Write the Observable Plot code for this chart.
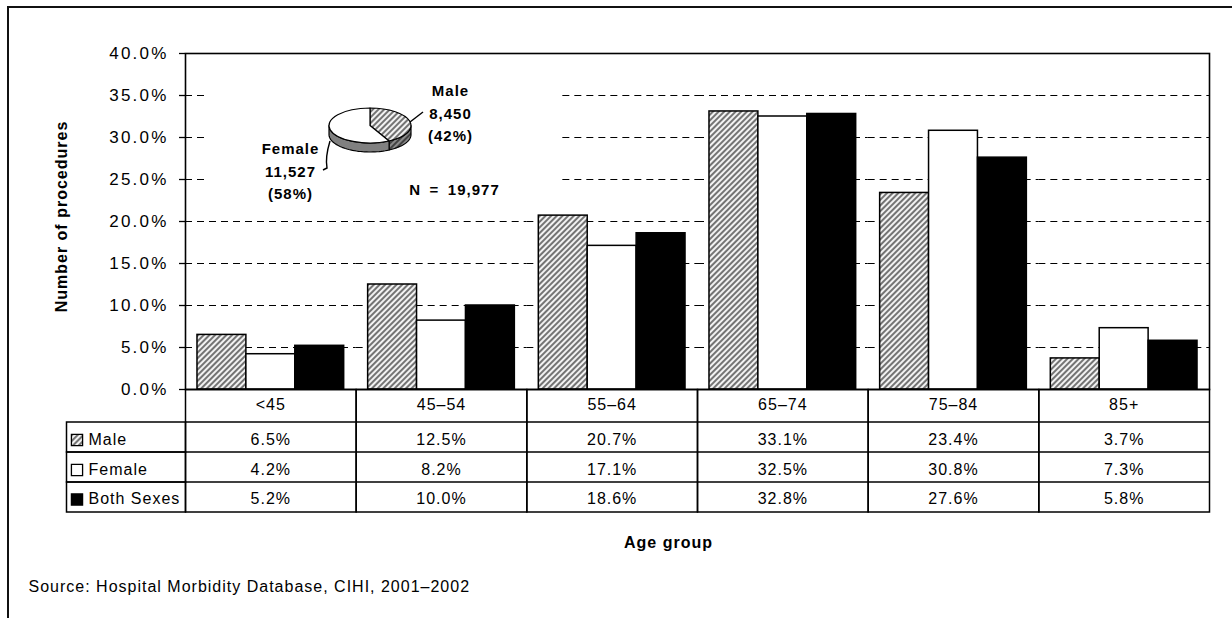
<!DOCTYPE html>
<html>
<head>
<meta charset="utf-8">
<script src="https://cdn.jsdelivr.net/npm/d3@7"></script>
<script src="https://cdn.jsdelivr.net/npm/@observablehq/plot@0.6"></script>
<style>
  body { margin: 0; background: #fff; }
  #wrap { position: relative; width: 1232px; height: 618px; overflow: hidden; background: #fff; }
  #border { position: absolute; left: 7px; top: 6px; width: 1300px; height: 700px;
            border-top: 2.5px solid #111; border-left: 2.5px solid #111; pointer-events: none; }
  #chart svg text { letter-spacing: 1px; }
  #chart svg g[aria-label="y-axis tick label"] text { letter-spacing: 2.2px; }
</style>
</head>
<body>
<svg width="0" height="0" style="position:absolute">
  <defs>
    <pattern id="hatch" patternUnits="userSpaceOnUse" width="4" height="4" patternTransform="rotate(45)">
      <rect width="4" height="4" fill="#f2f2f2"></rect>
      <line x1="1" y1="0" x2="1" y2="4" stroke="#4a4a4a" stroke-width="1.5"></line>
    </pattern>
    <pattern id="hatchDark" patternUnits="userSpaceOnUse" width="4" height="4" patternTransform="rotate(45)">
      <rect width="4" height="4" fill="#8a8a8a"></rect>
      <line x1="1" y1="0" x2="1" y2="4" stroke="#2a2a2a" stroke-width="1.5"></line>
    </pattern>
  </defs>
</svg>
<div id="wrap">
  <div id="chart"></div>
  <div id="border"></div>
</div>
<script>
// ---------- data ----------
const ageGroups = ["<45", "45–54", "55–64", "65–74", "75–84", "85+"];
const seriesNames = ["Male", "Female", "Both Sexes"];
const maleValues = [6.5, 12.5, 20.7, 33.1, 23.4, 3.7];
const femaleValues = [4.2, 8.2, 17.1, 32.5, 30.8, 7.3];
const bothValues = [5.2, 10.0, 18.6, 32.8, 27.6, 5.8];
const yTicks = [0, 5, 10, 15, 20, 25, 30, 35, 40];
const pieNames = ["Male", "Female"];
const pieCounts = [8450, 11527];
const axisTitleY = "Number of procedures";
const axisTitleX = "Age group";
const sourceNote = "Source: Hospital Morbidity Database, CIHI, 2001–2002";

// ---------- derived tables ----------
const valuesBySeries = {"Male": maleValues, "Female": femaleValues, "Both Sexes": bothValues};
const rows = ageGroups.flatMap((age, i) =>
  seriesNames.map(series => ({age, series, value: valuesBySeries[series][i]})));
const total = d3.sum(pieCounts);
const pieRows = pieNames.map((name, i) => ({name, count: pieCounts[i], pct: Math.round(100 * pieCounts[i] / total)}));

// ---------- styles ----------
const W = 1232, H = 618;
const mL = 185, mR = 23, mT = 53, mB = 229;
const plotH = H - mT - mB;
const headerH = 32.5, rowH = 30;
const barFill = {"Male": "url(#hatch)", "Female": "#ffffff", "Both Sexes": "#000000"};
const rowDy = {"Male": 50, "Female": 80, "Both Sexes": 109.5};
const sideFill = {"Male": "url(#hatchDark)", "Female": "#808080"};
const topFill = {"Male": "url(#hatch)", "Female": "#ffffff"};
const fmtPct = d => d.toFixed(1) + "%";
const fmtInt = d3.format(",");

function pieRender(index, scales, values, dims) {
  const cx = dims.marginLeft + 185, cy = dims.marginTop + 72.5;
  const rx = 41, ry = 17.5, depth = 9;
  const arcs = d3.pie().sort(null).value(d => d.count)(pieRows);
  const pt = (t, off = 0) => [cx + rx * Math.sin(t), cy - ry * Math.cos(t) + off];
  const g = d3.create("svg:g");
  // white background of the inset chart object (hides gridlines behind it)
  g.append("rect").attr("x", cx - 162).attr("y", cy - 57).attr("width", 350).attr("height", 137)
    .attr("fill", "#fff");
  for (const a of arcs) {
    const s0 = Math.max(a.startAngle, Math.PI / 2), s1 = Math.min(a.endAngle, 3 * Math.PI / 2);
    if (s1 <= s0) continue;
    const ts = d3.range(41).map(i => s0 + (s1 - s0) * i / 40);
    const pts = ts.map(t => pt(t)).concat(ts.slice().reverse().map(t => pt(t, depth)));
    g.append("path").attr("d", "M" + pts.join("L") + "Z")
      .attr("fill", sideFill[a.data.name]).attr("stroke", "#000")
      .attr("stroke-width", 1.2).attr("stroke-linejoin", "round");
  }
  for (const a of arcs) {
    const p0 = pt(a.startAngle), p1 = pt(a.endAngle);
    const large = a.endAngle - a.startAngle > Math.PI ? 1 : 0;
    g.append("path").attr("d", `M${cx},${cy}L${p0}A${rx},${ry} 0 ${large} 1 ${p1}Z`)
      .attr("fill", topFill[a.data.name]).attr("stroke", "#000")
      .attr("stroke-width", 1.2).attr("stroke-linejoin", "round");
  }
  // leader lines
  g.append("path").attr("d", `M${cx + 40},${cy - 3.5}L${cx + 53},${cy - 13.5}`)
    .attr("fill", "none").attr("stroke", "#000").attr("stroke-width", 1.4);
  g.append("path").attr("d", `M${cx - 40},${cy + 15.5}Q${cx - 45},${cy + 32} ${cx - 43},${cy + 42.5}L${cx - 47},${cy + 44.5}`)
    .attr("fill", "none").attr("stroke", "#000").attr("stroke-width", 1.4);
  return g.node();
}

const marks = [
  // gridlines (per facet)
  Plot.ruleY(yTicks.filter(d => d > 0 && d < 40), {stroke: "#000", strokeWidth: 1, strokeDasharray: "7,5"}),
  // bars
  ...seriesNames.map(s => Plot.barY(rows.filter(r => r.series === s), {
    fx: "age", x: "series", y: "value", fill: barFill[s], stroke: "#000", strokeWidth: 1.5
  })),
  // pie inset
  Plot.dot(pieRows, {facet: "super", frameAnchor: "top-left", render: pieRender}),
  // plot box
  Plot.frame({facet: "super", stroke: "#000", strokeWidth: 1.6}),
  // y axis
  Plot.axisY({ticks: yTicks, tickFormat: d => d.toFixed(1) + "%", tickSize: 6, tickPadding: 11,
              fontSize: 17, label: null, strokeWidth: 1.3}),
  // table cells (per facet)
  Plot.frame({insetTop: plotH, insetBottom: -(headerH + 3 * rowH), stroke: "#000", strokeWidth: 1.5}),
  Plot.ruleY([0], {dy: headerH, stroke: "#000", strokeWidth: 1.5}),
  Plot.ruleY([0], {dy: headerH + rowH, stroke: "#000", strokeWidth: 1.5}),
  Plot.ruleY([0], {dy: headerH + 2 * rowH, stroke: "#000", strokeWidth: 1.5}),
  // header labels
  Plot.text(ageGroups, {fx: d => d, text: d => d, frameAnchor: "bottom", lineAnchor: "middle", dy: 15.5, fontSize: 16}),
  // value cells
  ...seriesNames.map(s => Plot.text(rows.filter(r => r.series === s), {
    fx: "age", text: d => fmtPct(d.value), frameAnchor: "bottom", lineAnchor: "middle", dy: rowDy[s], fontSize: 16
  })),
  // legend column cells
  ...seriesNames.map((s, i) => Plot.frame({
    facet: "super", stroke: "#000", strokeWidth: 1.5,
    insetLeft: -119, insetRight: W - mL - mR,
    insetTop: plotH + headerH + i * rowH, insetBottom: -(headerH + (i + 1) * rowH)
  })),
  ...seriesNames.map(s => Plot.dot([s], {
    facet: "super", frameAnchor: "bottom-left", dx: -108.5, dy: rowDy[s] + 0.5,
    symbol: "square", r: 6.3, fill: barFill[s], stroke: "#000", strokeWidth: 1.3
  })),
  ...seriesNames.map(s => Plot.text([s], {
    facet: "super", text: d => d, frameAnchor: "bottom-left", textAnchor: "start",
    lineAnchor: "middle", dx: -97, dy: rowDy[s], fontSize: 16
  })),
  // axis titles and source
  Plot.text([axisTitleY], {facet: "super", text: d => d, frameAnchor: "left", textAnchor: "middle",
    rotate: -90, dx: -124, dy: -5, fontWeight: "bold", fontSize: 16}),
  Plot.text([axisTitleX], {facet: "super", text: d => d, frameAnchor: "bottom", lineAnchor: "middle",
    dx: -29, dy: 153, fontWeight: "bold", fontSize: 16}),
  Plot.text([sourceNote], {facet: "super", text: d => d, frameAnchor: "bottom-left", textAnchor: "start",
    lineAnchor: "middle", dx: -157, dy: 197, fontSize: 16}),
  // pie labels
  Plot.text(pieRows.filter(d => d.name === "Male"), {facet: "super", frameAnchor: "top-left", textAnchor: "middle",
    text: d => `${d.name}\n${fmtInt(d.count)}\n(${d.pct}%)`, lineAnchor: "top", lineHeight: 1.5,
    dx: 265, dy: 26.7, fontWeight: "bold", fontSize: 15}),
  Plot.text(pieRows.filter(d => d.name === "Female"), {facet: "super", frameAnchor: "top-left", textAnchor: "middle",
    text: d => `${d.name}\n${fmtInt(d.count)}\n(${d.pct}%)`, lineAnchor: "top", lineHeight: 1.5,
    dx: 105, dy: 84.7, fontWeight: "bold", fontSize: 15}),
  Plot.text([total], {facet: "super", frameAnchor: "top-left", textAnchor: "middle", text: d => `N\u2002=\u2002${fmtInt(d)}`,
    lineAnchor: "middle", dx: 269, dy: 137, fontWeight: "bold", fontSize: 15})
];

const chart = Plot.plot({
  width: W, height: H,
  marginLeft: mL, marginRight: mR, marginTop: mT, marginBottom: mB,
  fx: {domain: ageGroups, padding: 0, round: false, axis: null, label: null},
  x: {domain: seriesNames, paddingInner: 0, paddingOuter: 0.245, round: false, axis: null},
  y: {domain: [0, 40]},
  style: {fontFamily: "'Liberation Sans', Arial, Helvetica, sans-serif", color: "#000", background: "#fff", overflow: "visible"},
  marks
});
document.getElementById("chart").appendChild(chart);
</script>
</body>
</html>
